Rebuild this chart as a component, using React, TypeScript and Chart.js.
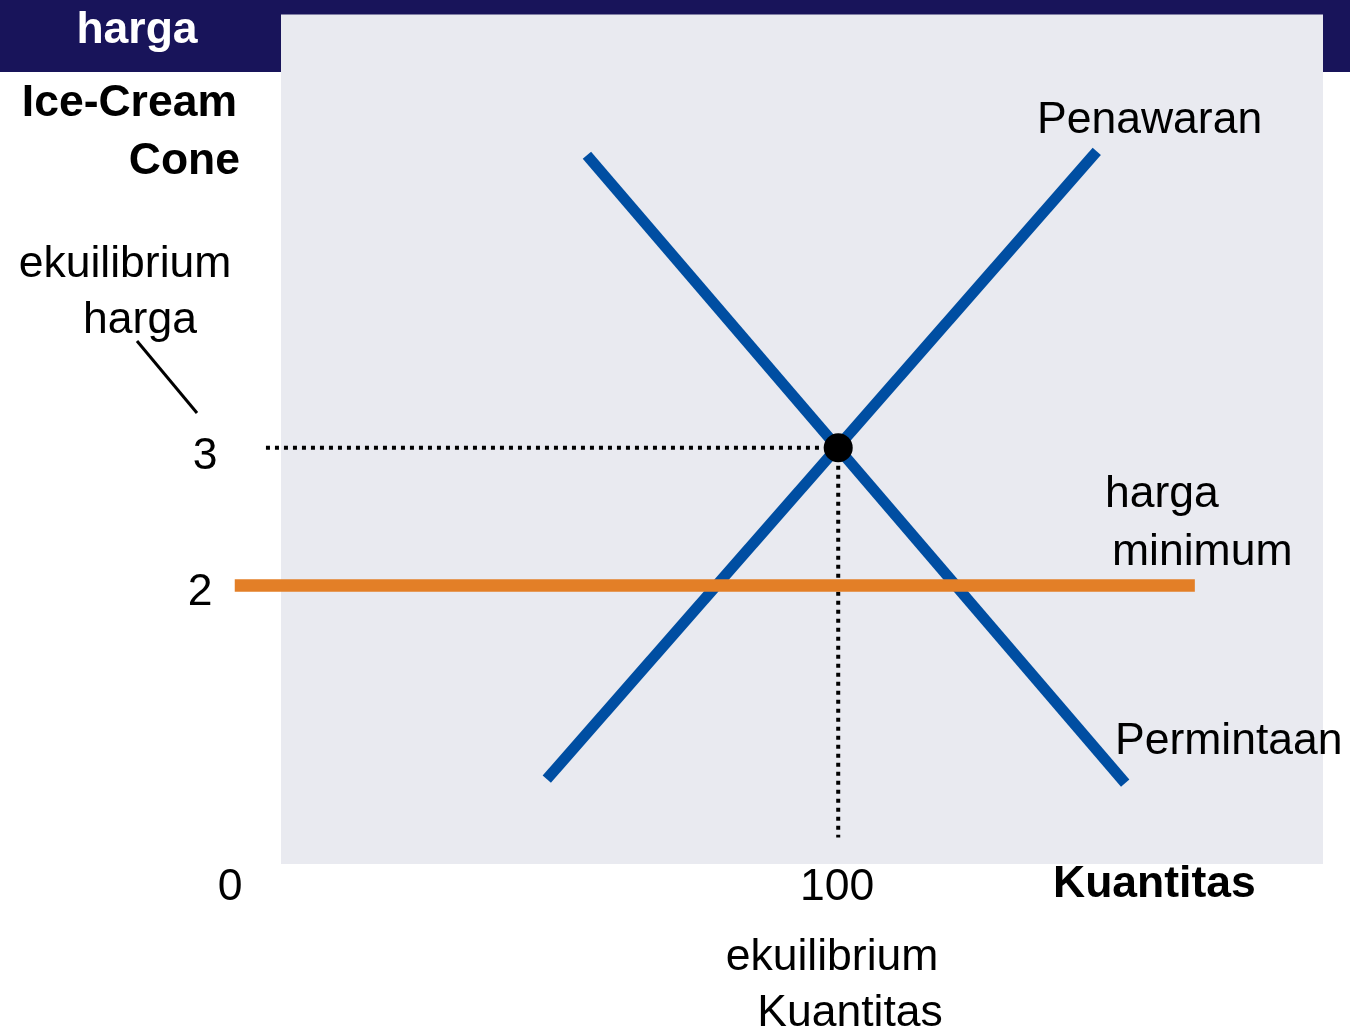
import React, { useEffect, useRef } from "react";
import { Chart, registerables } from "chart.js";

Chart.register(...registerables);

// ---- data (quantity on x, price on y) ----
const supplyPoints = [
  { x: 47.7, y: 0.594 },
  { x: 146.4, y: 5.152 },
];
const demandPoints = [
  { x: 54.9, y: 5.123 },
  { x: 151.5, y: 0.565 },
];
const equilibriumQuantity = 100;
const equilibriumPrice = 3;
const priceFloor = 2;
const priceFloorRange = [-8.3, 164];
const priceGuideStartX = -2.7;
const quantityGuideEndY = 0.17;
const priceTicks = [3, 2];
const quantityTicks = [0, 100];

const FONT = "'Liberation Sans', Arial, sans-serif";
const FS = 44.5;

const backgroundPlugin = {
  id: "bg",
  beforeDraw(chart: any) {
    const { ctx, chartArea, width, height } = chart;
    ctx.save();
    ctx.fillStyle = "#ffffff";
    ctx.fillRect(0, 0, width, height);
    ctx.fillStyle = "#18145A";
    ctx.fillRect(0, 0, width, 72);
    ctx.fillStyle = "#E9EAF0";
    ctx.fillRect(chartArea.left, chartArea.top, chartArea.right - chartArea.left, chartArea.bottom - chartArea.top);
    ctx.restore();
  },
};

const labelsPlugin = {
  id: "labels",
  afterDraw(chart: any) {
    const { ctx, chartArea } = chart;
    const xs = chart.scales.x;
    const ys = chart.scales.y;
    const txt = (s: string, x: number, y: number, align: CanvasTextAlign, bold = false, color = "#000") => {
      ctx.font = `${bold ? "bold " : ""}${FS}px ${FONT}`;
      ctx.fillStyle = color;
      ctx.textAlign = align;
      ctx.textBaseline = "alphabetic";
      ctx.fillText(s, x, y);
    };
    ctx.save();
    // axis titles
    txt("harga", 137, 43, "center", true, "#ffffff");
    txt("Ice-Cream", 237, 116, "right", true);
    txt("Cone", 240, 174, "right", true);
    txt("Kuantitas", 1053, 897, "left", true);

    // equilibrium price annotation
    txt("ekuilibrium", 125, 277, "center");
    txt("harga", 140, 333, "center");
    ctx.strokeStyle = "#000";
    ctx.lineWidth = 3;
    ctx.beginPath();
    ctx.moveTo(137, 341);
    ctx.lineTo(197, 413);
    ctx.stroke();

    // price ticks
    const py3 = ys.getPixelForValue(priceTicks[0]);
    const py2 = ys.getPixelForValue(priceTicks[1]);
    txt(String(priceTicks[0]), 205, py3 + 21, "center");
    txt(String(priceTicks[1]), 200, py2 + 20, "center");

    // quantity ticks
    txt(String(quantityTicks[0]), chartArea.left - 51, 900, "center");
    txt(String(quantityTicks[1]), xs.getPixelForValue(quantityTicks[1]) - 1, 900, "center");

    // curve labels
    txt("Penawaran", 1037, 133, "left");
    txt("harga", 1105, 507, "left");
    txt("minimum", 1112, 565, "left");
    txt("Permintaan", 1115, 754, "left");

    // equilibrium quantity annotation
    txt("ekuilibrium", 832, 970, "center");
    txt("Kuantitas", 850, 1026, "center");
    ctx.restore();
  },
};

export default function App() {
  const ref = useRef<HTMLCanvasElement | null>(null);

  useEffect(() => {
    document.body.style.margin = "0";
    const canvas = ref.current;
    if (!canvas) return;
    const lineBase = {
      showLine: true,
      pointRadius: 0,
      pointHoverRadius: 0,
      clip: false as any,
      borderCapStyle: "butt" as CanvasLineCap,
      fill: false,
    };
    const chart = new Chart(canvas, {
      type: "scatter",
      data: {
        datasets: [
          {
            label: "Ekuilibrium",
            data: [{ x: equilibriumQuantity, y: equilibriumPrice }],
            pointRadius: 14.5,
            pointHoverRadius: 14.5,
            pointBackgroundColor: "#000",
            pointBorderColor: "#000",
            pointBorderWidth: 0,
            showLine: false,
            clip: false as any,
            order: 0,
          },
          {
            ...lineBase,
            label: "Harga minimum",
            data: [
              { x: priceFloorRange[0], y: priceFloor },
              { x: priceFloorRange[1], y: priceFloor },
            ],
            borderColor: "#E37F27",
            borderWidth: 12.5,
            order: 1,
          },
          {
            ...lineBase,
            label: "Guide harga",
            data: [
              { x: priceGuideStartX, y: equilibriumPrice },
              { x: equilibriumQuantity, y: equilibriumPrice },
            ],
            borderColor: "#000",
            borderWidth: 4,
            borderDash: [4, 5],
            order: 2,
          },
          {
            ...lineBase,
            label: "Guide kuantitas",
            data: [
              { x: equilibriumQuantity, y: equilibriumPrice },
              { x: equilibriumQuantity, y: quantityGuideEndY },
            ],
            borderColor: "#000",
            borderWidth: 4,
            borderDash: [4, 5],
            order: 2,
          },
          {
            ...lineBase,
            label: "Penawaran",
            data: supplyPoints,
            borderColor: "#004EA2",
            borderWidth: 11,
            order: 3,
          },
          {
            ...lineBase,
            label: "Permintaan",
            data: demandPoints,
            borderColor: "#004EA2",
            borderWidth: 11,
            order: 3,
          },
        ],
      },
      options: {
        responsive: false,
        animation: false,
        events: [],
        layout: { padding: { left: 281, right: 27, top: 13, bottom: 167 } },
        scales: {
          x: { type: "linear", min: 0, max: 187, display: false },
          y: { type: "linear", min: -0.022, max: 6.145, display: false },
        },
        plugins: {
          legend: { display: false },
          tooltip: { enabled: false },
        },
      },
      plugins: [backgroundPlugin, labelsPlugin],
    });
    return () => chart.destroy();
  }, []);

  return (
    <div style={{ position: "absolute", left: 0, top: 0, width: 1350, height: 1031 }}>
      <canvas ref={ref} width={1350} height={1031} style={{ display: "block" }} />
    </div>
  );
}
